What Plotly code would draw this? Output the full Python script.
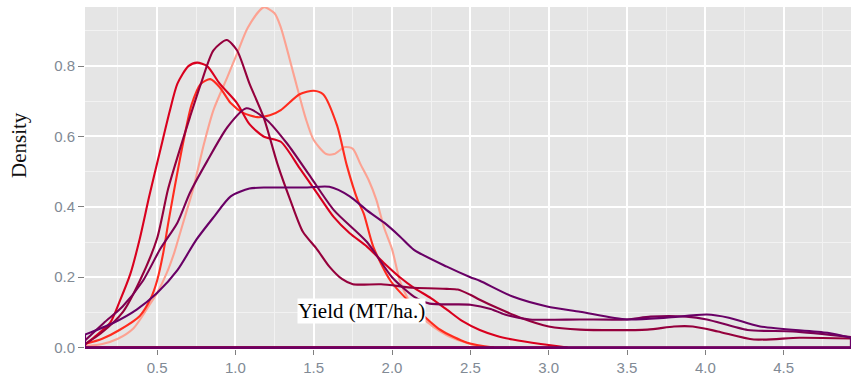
import plotly.graph_objects as go

# ---- data ----
salmon_x = [0.04, 0.15, 0.25, 0.35, 0.45, 0.5, 0.56, 0.61, 0.65, 0.69, 0.73, 0.8, 0.86, 0.95, 1.01, 1.08, 1.18, 1.25, 1.29, 1.37, 1.45, 1.5, 1.58, 1.63, 1.7, 1.75, 1.8, 1.85, 1.9, 1.95, 2.0, 2.05, 2.1, 2.16, 2.26, 2.35, 2.45, 2.55, 2.65]
salmon_y = [0.004, 0.01, 0.025, 0.055, 0.12, 0.155, 0.21, 0.27, 0.33, 0.39, 0.45, 0.58, 0.675, 0.77, 0.835, 0.91, 0.967, 0.95, 0.91, 0.78, 0.65, 0.59, 0.55, 0.55, 0.57, 0.565, 0.52, 0.477, 0.42, 0.34, 0.28, 0.19, 0.14, 0.1, 0.06, 0.035, 0.017, 0.004, 0.0]

bright_x = [0.04, 0.15, 0.26, 0.39, 0.46, 0.5, 0.54, 0.57, 0.61, 0.67, 0.72, 0.78, 0.84, 0.9, 0.97, 1.05, 1.14, 1.22, 1.29, 1.41, 1.5, 1.56, 1.65, 1.71, 1.78, 1.82, 1.88, 1.99, 2.14, 2.31, 2.48, 2.65]
bright_y = [0.01, 0.025, 0.05, 0.09, 0.14, 0.19, 0.27, 0.35, 0.45, 0.59, 0.69, 0.75, 0.763, 0.74, 0.695, 0.667, 0.655, 0.66, 0.675, 0.72, 0.73, 0.72, 0.63, 0.52, 0.42, 0.38, 0.287, 0.19, 0.117, 0.05, 0.014, 0.0]

red_x = [0.04, 0.1, 0.2, 0.26, 0.33, 0.39, 0.45, 0.52, 0.58, 0.63, 0.7, 0.755, 0.82, 0.9, 1.01, 1.09, 1.18, 1.29, 1.41, 1.52, 1.63, 1.73, 1.84, 1.95, 2.05, 2.14, 2.25, 2.35, 2.45, 2.56, 2.67, 2.77, 2.95, 3.12]
red_y = [0.008, 0.03, 0.07, 0.13, 0.21, 0.31, 0.43, 0.56, 0.67, 0.75, 0.8, 0.81, 0.8, 0.75, 0.695, 0.635, 0.6, 0.585, 0.51, 0.44, 0.37, 0.325, 0.287, 0.24, 0.2, 0.17, 0.14, 0.108, 0.075, 0.05, 0.033, 0.023, 0.01, 0.0]

crimson_x = [0.04, 0.14, 0.28, 0.39, 0.5, 0.57, 0.65, 0.71, 0.78, 0.86, 0.945, 1.01, 1.09, 1.18, 1.27, 1.35, 1.43, 1.52, 1.6, 1.68, 1.75, 1.93, 2.14, 2.35, 2.42, 2.5, 2.56, 2.67, 2.82, 3.0, 3.2, 3.63, 3.8, 3.92, 4.08, 4.31, 4.6, 4.93]
crimson_y = [0.01, 0.04, 0.1, 0.19, 0.31, 0.45, 0.57, 0.655, 0.75, 0.845, 0.874, 0.845, 0.75, 0.655, 0.52, 0.42, 0.33, 0.28, 0.23, 0.195, 0.18, 0.18, 0.17, 0.167, 0.165, 0.15, 0.136, 0.113, 0.085, 0.06, 0.051, 0.051, 0.06, 0.06, 0.046, 0.023, 0.028, 0.026]

maroon_x = [0.04, 0.16, 0.28, 0.41, 0.52, 0.63, 0.71, 0.82, 0.95, 1.07, 1.2, 1.33, 1.48, 1.63, 1.84, 2.0, 2.14, 2.24, 2.5, 2.63, 2.72, 2.88, 3.2, 3.5, 3.65, 3.88, 4.01, 4.27, 4.56, 4.93]
maroon_y = [0.02, 0.07, 0.117, 0.19, 0.28, 0.355, 0.44, 0.53, 0.627, 0.68, 0.647, 0.58, 0.485, 0.39, 0.3, 0.2, 0.145, 0.125, 0.122, 0.11, 0.094, 0.08, 0.08, 0.08, 0.088, 0.088, 0.08, 0.05, 0.046, 0.03]

purple_x = [0.04, 0.22, 0.37, 0.5, 0.63, 0.75, 0.86, 0.97, 1.09, 1.2, 1.45, 1.6, 1.73, 1.84, 1.95, 2.05, 2.14, 2.35, 2.5, 2.56, 2.77, 2.99, 3.2, 3.5, 3.75, 4.01, 4.15, 4.35, 4.78, 4.93]
purple_y = [0.037, 0.07, 0.108, 0.155, 0.22, 0.306, 0.37, 0.43, 0.452, 0.455, 0.455, 0.457, 0.43, 0.39, 0.355, 0.316, 0.278, 0.23, 0.2, 0.19, 0.145, 0.117, 0.102, 0.08, 0.085, 0.094, 0.085, 0.06, 0.042, 0.028]

series = [
    ("salmon", salmon_x, salmon_y, "#FCA292"),
    ("bright red", bright_x, bright_y, "#FF2B1E"),
    ("red", red_x, red_y, "#D9001E"),
    ("crimson", crimson_x, crimson_y, "#95003C"),
    ("maroon", maroon_x, maroon_y, "#7D0053"),
    ("purple", purple_x, purple_y, "#690066"),
]

x_ticks = [0.5, 1.0, 1.5, 2.0, 2.5, 3.0, 3.5, 4.0, 4.5]
y_ticks = [0.0, 0.2, 0.4, 0.6, 0.8]

x_lo = min(min(s[1]) for s in series)
x_hi = max(max(s[1]) for s in series)

fig = go.Figure()
for name, xs, ys, col in series:
    # density curve
    fig.add_trace(go.Scatter(x=xs, y=ys, mode="lines", name=name,
                             line=dict(color=col, width=2.1, shape="spline", smoothing=0.7),
                             hoverinfo="skip", showlegend=False))
    # polygon outline (bottom + edges)
    fig.add_trace(go.Scatter(x=[xs[-1], xs[-1], x_lo, x_lo], y=[ys[-1], 0, 0, ys[0]],
                             mode="lines", line=dict(color=col, width=2.1),
                             hoverinfo="skip", showlegend=False))

tick_font = dict(family="Liberation Sans, Arial, sans-serif", size=15, color="#818A95")
fig.update_layout(
    width=851, height=382,
    margin=dict(l=85, r=0, t=7, b=33),
    paper_bgcolor="white", plot_bgcolor="#E5E5E5",
    showlegend=False,
    xaxis=dict(range=[x_lo, x_hi], tickvals=x_ticks, ticktext=[f"{v:.1f}" for v in x_ticks],
               ticks="outside", ticklen=5, tickwidth=1, tickcolor="#7F7F7F",
               tickfont=tick_font, showgrid=True, gridcolor="white", gridwidth=1.5,
               zeroline=False, showline=False,
               minor=dict(dtick=0.25, tick0=0, showgrid=True, gridcolor="#F2F2F2", gridwidth=0.8)),
    yaxis=dict(range=[-0.004, 0.968], tickvals=y_ticks, ticktext=[f"{v:.1f}" for v in y_ticks],
               ticks="outside", ticklen=6, tickwidth=1, tickcolor="#7F7F7F",
               tickfont=tick_font, showgrid=True, gridcolor="white", gridwidth=1.5,
               zeroline=False, showline=False,
               minor=dict(dtick=0.1, tick0=0, showgrid=True, gridcolor="#F2F2F2", gridwidth=0.8)),
    annotations=[
        dict(text="Yield (MT/ha.)", xref="paper", yref="paper", x=0.3616, y=0.111,
             xanchor="center", yanchor="middle", showarrow=False,
             font=dict(family="Liberation Serif, Times New Roman, serif", size=21, color="#000000"),
             bgcolor="white", borderpad=0),
        dict(text="Density", xref="paper", yref="paper", x=-0.0868, y=0.595,
             xanchor="center", yanchor="middle", showarrow=False, textangle=-90,
             font=dict(family="Liberation Serif, Times New Roman, serif", size=21, color="#111111")),
    ],
)

fig.write_html("out.html", config={"displayModeBar": False},
               post_script="document.body.style.margin='0';document.body.style.overflow='hidden';")
